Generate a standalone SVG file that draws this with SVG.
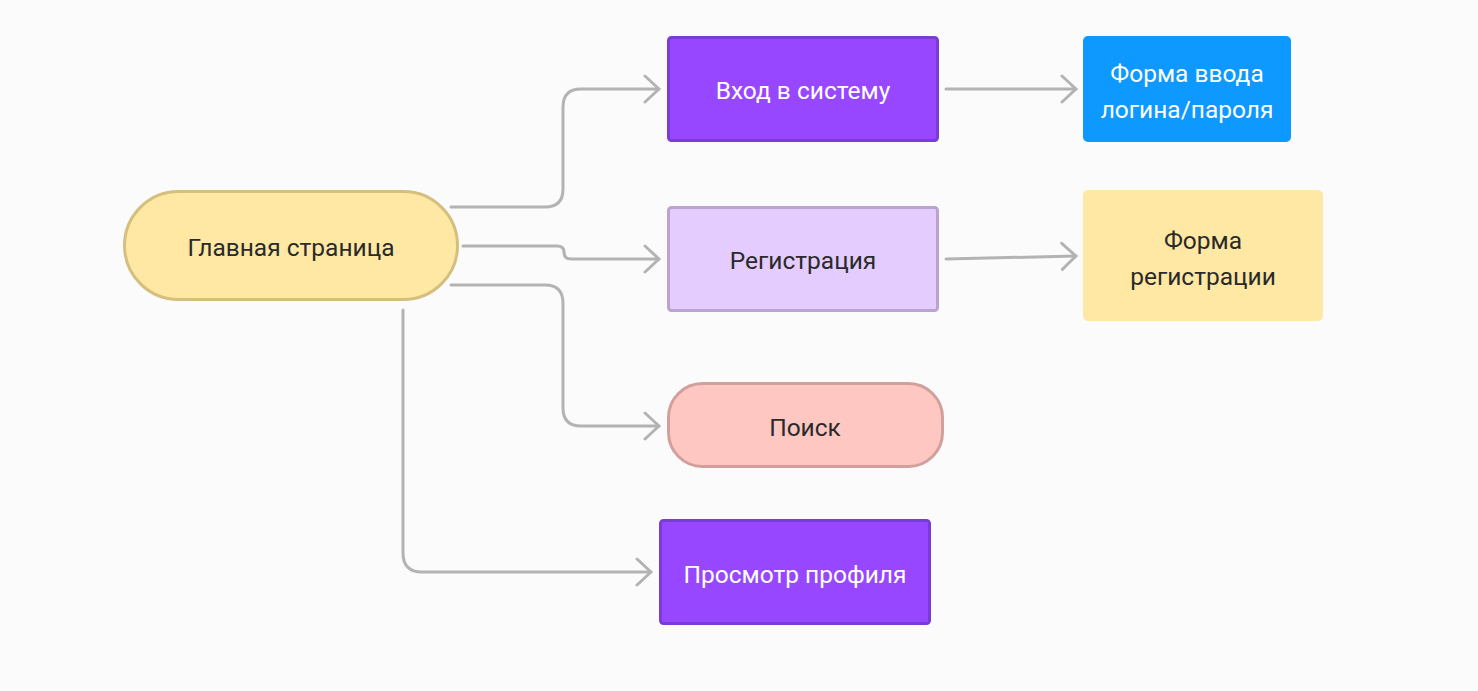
<svg xmlns="http://www.w3.org/2000/svg" width="1478" height="691" viewBox="0 0 1478 691">
<style>
.t{font-family:Roboto,Inter,"Noto Sans","Liberation Sans",sans-serif;font-size:24.5px;text-anchor:middle;dominant-baseline:central}
.dk{fill:#2a2a2a}
.wh{fill:#ffffff}
.c{fill:none;stroke:#b3b3b3;stroke-width:3;stroke-linecap:round;stroke-linejoin:round}
.pur{fill:#9747ff;stroke:#7b3bd6;stroke-width:3}
</style>
<defs>
<marker id="ar" markerUnits="userSpaceOnUse" markerWidth="30" markerHeight="30" viewBox="-20 -15 24 30" refX="0" refY="0" orient="auto">
<path d="M-14,-13 L0,0 L-14,13" fill="none" stroke="#b3b3b3" stroke-width="3" stroke-linecap="round" stroke-linejoin="round"/>
</marker>
</defs>
<rect width="1478" height="691" fill="#fbfbfb"/>
<g id="connectors">
<path class="c" marker-end="url(#ar)" d="M451,207 H545 Q563,207 563,189 V107 Q563,89 581,89 H659"/>
<path class="c" marker-end="url(#ar)" d="M463,246 H557 Q564,246 564,252 Q564,259 571,259 H659"/>
<path class="c" marker-end="url(#ar)" d="M451,285 H545 Q563,285 563,303 V408 Q563,426 581,426 H659"/>
<path class="c" marker-end="url(#ar)" d="M403,310 V553 Q403,572 422,572 H651"/>
<path class="c" marker-end="url(#ar)" d="M946,89 H1076"/>
<path class="c" marker-end="url(#ar)" d="M946,259 L1076,256"/>
</g>
<g id="main">
<rect x="124.5" y="191.5" width="333" height="108" rx="54" fill="#ffe8a3" stroke="#d4bf7e" stroke-width="3"/>
<text class="t dk" x="291" y="247">Главная страница</text>
</g>
<g id="login">
<rect class="pur" x="668.5" y="37.5" width="269" height="103" rx="3"/>
<text class="t wh" x="803" y="90">Вход в систему</text>
</g>
<g id="register">
<rect x="668.5" y="207.5" width="269" height="103" rx="3" fill="#e4ccff" stroke="#bba3d0" stroke-width="3"/>
<text class="t dk" x="803" y="260">Регистрация</text>
</g>
<g id="search">
<rect x="668.5" y="383.5" width="274" height="83" rx="34" fill="#ffc7c2" stroke="#d2a09c" stroke-width="3"/>
<text class="t dk" x="805" y="427">Поиск</text>
</g>
<g id="profile">
<rect class="pur" x="660.5" y="520.5" width="269" height="103" rx="3"/>
<text class="t wh" x="795" y="574">Просмотр профиля</text>
</g>
<g id="loginform">
<rect x="1083" y="36" width="208" height="106" rx="5" fill="#0d99ff"/>
<text class="t wh" x="1187" y="73">Форма ввода</text>
<text class="t wh" x="1187" y="109">логина/пароля</text>
</g>
<g id="regform">
<rect x="1083" y="190" width="240" height="131" rx="5" fill="#ffe8a3"/>
<text class="t dk" x="1203" y="240">Форма</text>
<text class="t dk" x="1203" y="276">регистрации</text>
</g>
</svg>
